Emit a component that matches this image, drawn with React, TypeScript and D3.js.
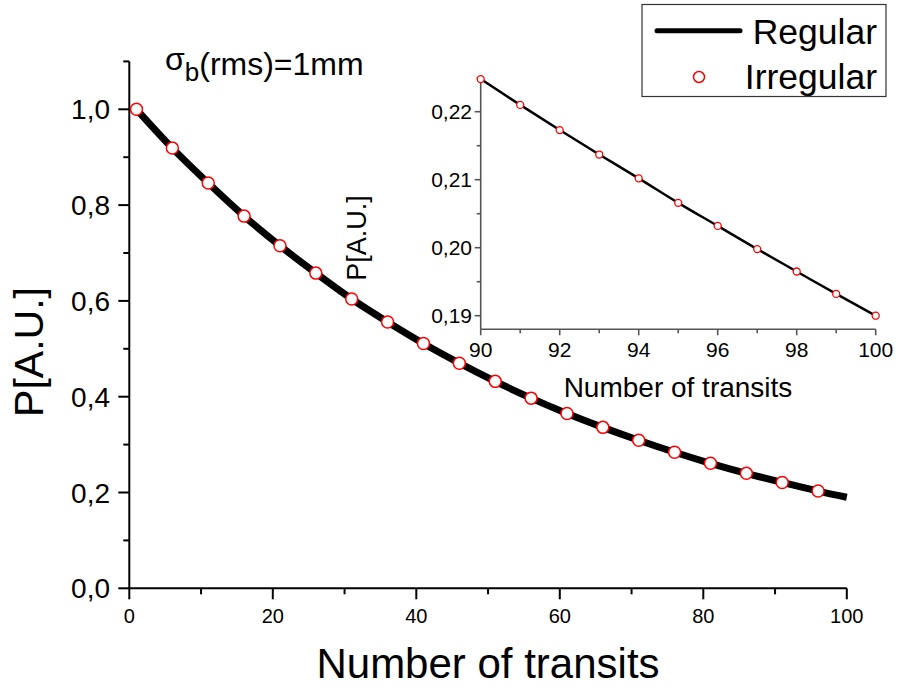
import React from "react";
import * as d3 from "d3";

// Main plot data
const mainX = [1, 6, 11, 16, 21, 26, 31, 36, 41, 46, 51, 56, 61, 66, 71, 76, 81, 86, 91, 96];
const mainP = [1.0, 0.919, 0.846, 0.777, 0.715, 0.658, 0.604, 0.556, 0.511, 0.470, 0.432, 0.397, 0.365, 0.336, 0.309, 0.284, 0.261, 0.240, 0.221, 0.203];
const mainLineX = [1, 6, 11, 16, 21, 26, 31, 36, 41, 46, 51, 56, 61, 66, 71, 76, 81, 86, 91, 96, 100];
const mainLineP = [1.0, 0.919, 0.846, 0.777, 0.715, 0.658, 0.604, 0.556, 0.511, 0.470, 0.432, 0.397, 0.365, 0.336, 0.309, 0.284, 0.261, 0.240, 0.221, 0.203, 0.190];

// Inset data
const insetX = [90, 91, 92, 93, 94, 95, 96, 97, 98, 99, 100];
const insetP = [0.2248, 0.2210, 0.2173, 0.2137, 0.2102, 0.2066, 0.2032, 0.1998, 0.1965, 0.1932, 0.1900];

// Ticks
const mainXMajor = [0, 20, 40, 60, 80, 100];
const mainXMinor = [10, 30, 50, 70, 90];
const mainYMajor = [0, 0.2, 0.4, 0.6, 0.8, 1.0];
const mainYMinor = [0.1, 0.3, 0.5, 0.7, 0.9, 1.1];
const insetXMajor = [90, 92, 94, 96, 98, 100];
const insetXMinor = [91, 93, 95, 97, 99];
const insetYMajor = [0.19, 0.2, 0.21, 0.22];
const insetYMinor = [0.195, 0.205, 0.215, 0.225];

const FONT = "'Liberation Sans', Arial, sans-serif";

export default function App() {
  const x = d3.scaleLinear().domain([0, 100]).range([129.3, 846.8]);
  const y = d3.scaleLinear().domain([0, 1.1]).range([588.3, 588.3 - 1.1 * 479]);
  const xi = d3.scaleLinear().domain([90, 100]).range([480.7, 875.7]);
  const yi = d3.scaleLinear().domain([0.188, 0.225]).range([329.3, 77.7]);

  const mainLine = d3
    .line<number>()
    .x((d, i) => x(mainLineX[i]))
    .y((d) => y(d))
    .curve(d3.curveMonotoneX)(mainLineP) as string;

  const insetLine = d3
    .line<number>()
    .x((d, i) => xi(insetX[i]))
    .y((d) => yi(d))
    .curve(d3.curveMonotoneX)(insetP) as string;

  const fmt = (v: number, digits: number) => v.toFixed(digits).replace(".", ",");

  return (
    <svg
      width={897}
      height={687}
      style={{ position: "absolute", left: 0, top: 0, background: "#fff" }}
      fontFamily={FONT}
    >
      <rect x={0} y={0} width={897} height={687} fill="#fff" />

      {/* Main axes */}
      <g stroke="#000" strokeWidth={2}>
        <line x1={x(0)} x2={x(0)} y1={y(0)} y2={y(1.1)} />
        <line x1={x(0)} x2={x(100)} y1={y(0)} y2={y(0)} />
        {mainYMajor.map((v) => (
          <line key={"ym" + v} x1={x(0) - 11} x2={x(0)} y1={y(v)} y2={y(v)} />
        ))}
        {mainYMinor.map((v) => (
          <line key={"yn" + v} x1={x(0) - 6} x2={x(0)} y1={y(v)} y2={y(v)} />
        ))}
        {mainXMajor.map((v) => (
          <line key={"xm" + v} x1={x(v)} x2={x(v)} y1={y(0)} y2={y(0) + 11} />
        ))}
        {mainXMinor.map((v) => (
          <line key={"xn" + v} x1={x(v)} x2={x(v)} y1={y(0)} y2={y(0) + 6} />
        ))}
      </g>
      {mainYMajor.map((v) => (
        <text key={"yl" + v} x={110} y={y(v)} dy="0.36em" textAnchor="end" fontSize={28}>
          {fmt(v, 1)}
        </text>
      ))}
      {mainXMajor.map((v) => (
        <text key={"xl" + v} x={x(v)} y={623} textAnchor="middle" fontSize={20}>
          {v}
        </text>
      ))}
      <text x={488} y={678} textAnchor="middle" fontSize={42}>
        Number of transits
      </text>
      <text transform="translate(43,352) rotate(-90)" textAnchor="middle" fontSize={41}>
        P[A.U.]
      </text>

      {/* sigma label */}
      <text x={165} y={70} fontSize={32}>
        <tspan>σ</tspan>
        <tspan fontSize={26} dy={11}>b</tspan>
        <tspan fontSize={32} dy={-6}>(rms)=1mm</tspan>
      </text>

      {/* Main curve */}
      <path d={mainLine} fill="none" stroke="#000" strokeWidth={7} strokeLinejoin="round" />
      {mainX.map((v, i) => (
        <circle key={"mp" + v} cx={x(v)} cy={y(mainP[i])} r={6} fill="#fff" stroke="#f00" strokeWidth={1.5} />
      ))}

      {/* Inset axes */}
      <g stroke="#555" strokeWidth={1.6}>
        <line x1={xi(90)} x2={xi(90)} y1={yi(0.188)} y2={yi(0.225)} />
        <line x1={xi(90)} x2={xi(100)} y1={yi(0.188)} y2={yi(0.188)} />
        {insetYMajor.map((v) => (
          <line key={"iym" + v} x1={xi(90) - 6} x2={xi(90)} y1={yi(v)} y2={yi(v)} />
        ))}
        {insetYMinor.map((v) => (
          <line key={"iyn" + v} x1={xi(90) - 4} x2={xi(90)} y1={yi(v)} y2={yi(v)} />
        ))}
        {insetXMajor.map((v) => (
          <line key={"ixm" + v} x1={xi(v)} x2={xi(v)} y1={yi(0.188)} y2={yi(0.188) + 6} />
        ))}
        {insetXMinor.map((v) => (
          <line key={"ixn" + v} x1={xi(v)} x2={xi(v)} y1={yi(0.188)} y2={yi(0.188) + 4} />
        ))}
      </g>
      {insetYMajor.map((v) => (
        <text key={"iyl" + v} x={472} y={yi(v)} dy="0.36em" textAnchor="end" fontSize={21}>
          {fmt(v, 2)}
        </text>
      ))}
      {insetXMajor.map((v) => (
        <text key={"ixl" + v} x={xi(v)} y={357} textAnchor="middle" fontSize={21}>
          {v}
        </text>
      ))}
      <text x={678} y={397} textAnchor="middle" fontSize={28}>
        Number of transits
      </text>
      <text transform="translate(366,238) rotate(-90)" textAnchor="middle" fontSize={27}>
        P[A.U.]
      </text>
      <path d={insetLine} fill="none" stroke="#000" strokeWidth={2.5} />
      {insetX.map((v, i) => (
        <circle key={"ip" + v} cx={xi(v)} cy={yi(insetP[i])} r={3.5} fill="#fff" stroke="#f00" strokeWidth={1.3} />
      ))}

      {/* Legend */}
      <rect x={642} y={4.5} width={244} height={92} fill="#fff" stroke="#333" strokeWidth={1.2} />
      <line x1={657} x2={740} y1={30.7} y2={30.7} stroke="#000" strokeWidth={5} strokeLinecap="round" />
      <text x={877} y={44} textAnchor="end" fontSize={35.5}>
        Regular
      </text>
      <circle cx={699} cy={77} r={5.5} fill="#fff" stroke="#f00" strokeWidth={1.5} />
      <text x={877} y={88.5} textAnchor="end" fontSize={35.5}>
        Irregular
      </text>
    </svg>
  );
}
